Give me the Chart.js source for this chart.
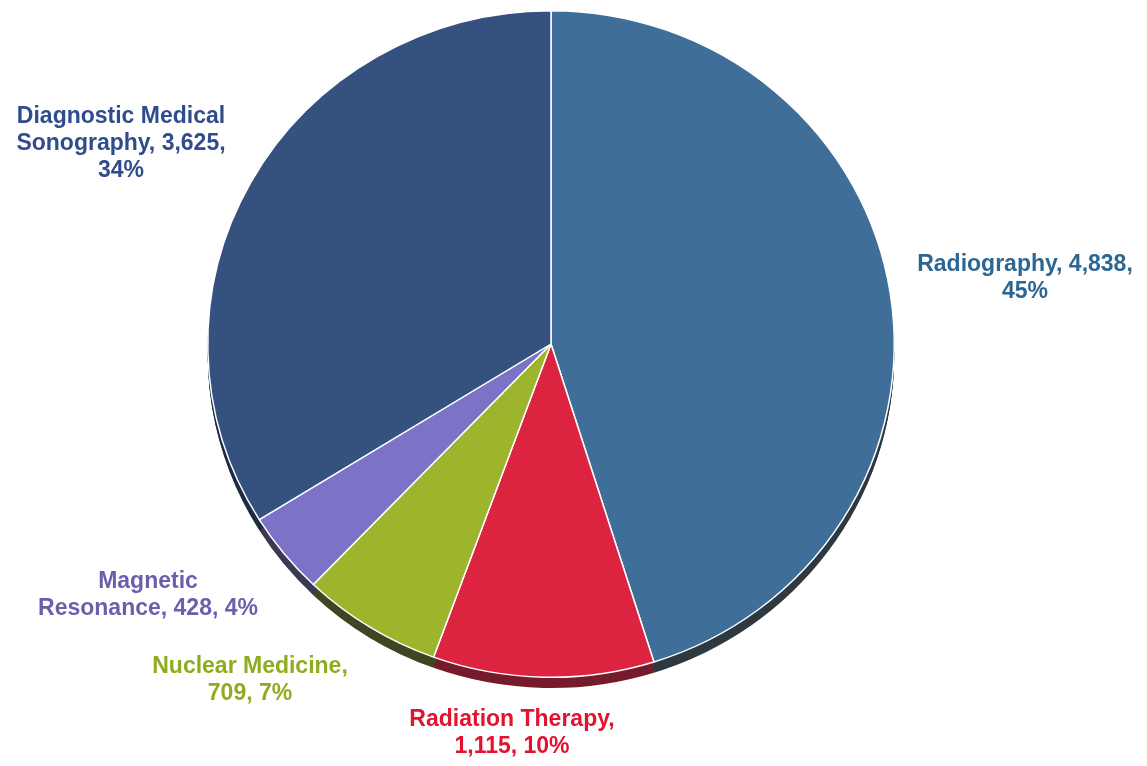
<!DOCTYPE html>
<html>
<head>
<meta charset="utf-8">
<script src="https://cdn.jsdelivr.net/npm/chart.js@4.4.0/dist/chart.umd.min.js"></script>
<style>
  html, body { margin: 0; padding: 0; background: #ffffff; }
  #wrap { width: 1147px; height: 766px; position: relative; }
</style>
</head>
<body>
<div id="wrap"><canvas id="pie" width="1147" height="766"></canvas></div>
<script>
// data
const programs = ['Radiography', 'Radiation Therapy', 'Nuclear Medicine', 'Magnetic Resonance', 'Diagnostic Medical Sonography'];
const counts = [4838, 1115, 709, 428, 3625];
const percents = [45, 10, 7, 4, 34];
const labelLines = [
  ['Radiography, 4,838,', '45%'],
  ['Radiation Therapy,', '1,115, 10%'],
  ['Nuclear Medicine,', '709, 7%'],
  ['Magnetic', 'Resonance, 428, 4%'],
  ['Diagnostic Medical', 'Sonography, 3,625,', '34%']
];

const sliceColors = ['#3f6f98', '#dc2440', '#9db52c', '#7c73c6', '#35517f'];
const rimColors = ['#2e3a40', '#761c2c', '#3f4624', '#3b3a50', '#1f2c44'];
const textColors = ['#2c6793', '#e3122f', '#8fac1f', '#6b5fab', '#2f4c8d'];
// label centre offsets from pie centre (first line)
const labelOffsets = [[474, -79], [-39, 376], [-301, 323], [-403, 238], [-430, -227]];
const squash = 0.971; // pie is drawn slightly flattened

const rimPlugin = {
  id: 'rim',
  beforeDatasetsDraw(chart) {
    const ctx = chart.ctx;
    const arcs = chart.getDatasetMeta(0).data;
    const cx = arcs[0].x, cy = arcs[0].y;
    ctx.save();
    ctx.translate(cx, cy);
    ctx.scale(1, squash);
    ctx.translate(-cx, -cy);
    arcs.forEach((arc, i) => {
      const p = arc.getProps(['x', 'y', 'startAngle', 'endAngle', 'outerRadius']);
      for (let d = 11; d >= 1; d--) {
        ctx.beginPath();
        ctx.moveTo(p.x, p.y + d);
        ctx.arc(p.x, p.y + d, p.outerRadius, p.startAngle, p.endAngle);
        ctx.closePath();
        ctx.fillStyle = rimColors[i];
        ctx.fill();
      }
    });
    // keep the transform for the slices, restored after they are drawn
  },
  afterDatasetsDraw(chart) {
    chart.ctx.restore();
  }
};

const labelPlugin = {
  id: 'sliceLabels',
  afterDatasetsDraw(chart) {
    const ctx = chart.ctx;
    const arc0 = chart.getDatasetMeta(0).data[0];
    ctx.save();
    ctx.font = 'bold 23px "Liberation Sans", Arial, sans-serif';
    ctx.textAlign = 'center';
    ctx.textBaseline = 'middle';
    labelLines.forEach((lines, i) => {
      ctx.fillStyle = textColors[i];
      lines.forEach((t, j) => {
        ctx.fillText(t, arc0.x + labelOffsets[i][0], arc0.y + labelOffsets[i][1] + j * 27);
      });
    });
    ctx.restore();
  }
};

new Chart(document.getElementById('pie'), {
  type: 'pie',
  data: {
    labels: programs,
    datasets: [{
      data: counts,
      backgroundColor: sliceColors,
      borderColor: '#ffffff',
      borderWidth: 1.5
    }]
  },
  options: {
    responsive: false,
    animation: false,
    layout: { padding: { top: 0, bottom: 78, left: 207, right: 252 } },
    plugins: {
      legend: { display: false },
      tooltip: { enabled: false }
    }
  },
  plugins: [rimPlugin, labelPlugin]
});
</script>
</body>
</html>
